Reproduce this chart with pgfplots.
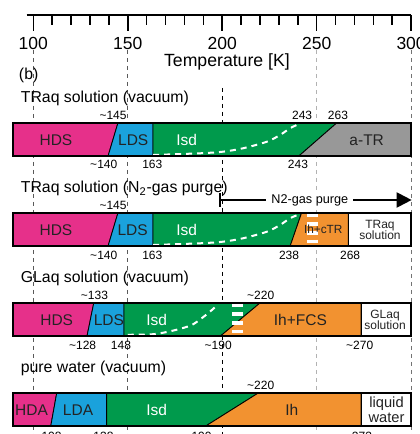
\documentclass[border=0pt]{standalone}
\usepackage{pgfplots}
\pgfplotsset{compat=1.18}
\usepackage{fontspec}
\setmainfont{Liberation Sans}
\usetikzlibrary{arrows.meta}
\definecolor{cmag}{RGB}{230,48,138}
\definecolor{cblue}{RGB}{26,162,220}
\definecolor{cgreen}{RGB}{0,154,76}
\definecolor{cgray}{RGB}{152,152,152}
\definecolor{corange}{RGB}{242,146,48}
\definecolor{ctext}{RGB}{35,35,35}
\newcommand{\fbar}{\fontsize{9.3}{11}\selectfont}
\newcommand{\fnum}{\fontsize{7.2}{8.5}\selectfont}
\newcommand{\ftitle}{\fontsize{9.5}{11}\selectfont}
\newcommand{\fsmall}{\fontsize{7.2}{6.9}\selectfont}
\newcommand{\tl}{\textasciitilde}
\begin{document}
\begin{tikzpicture}
\begin{axis}[
  x=1.1334pt, y=0.6pt,
  xmin=96.5, xmax=300, ymin=-434, ymax=-15,
  axis x line*=top, axis y line=none,
  clip=false,
  xtick={100,150,...,300},
  minor xtick={110,120,...,290},
  tick align=inside,
  major tick length=9.6pt, minor tick length=6pt,
  every tick/.style={black, line width=0.9pt},
  x axis line style={line width=1.2pt, black},
  xticklabel style={anchor=center, yshift=-16.8pt, font=\fontsize{10.5}{12}\selectfont},
  /pgf/number format/assume math mode=true,
  ytick=\empty,
  every node/.append style={inner sep=0pt},
]
% grid lines
\addplot[black!65, line width=0.6pt, dash pattern=on 2.6pt off 2.2pt] coordinates {(100,-50) (100,-434)};
\addplot[black!65, line width=0.6pt, dash pattern=on 2.6pt off 2.2pt] coordinates {(150,-50) (150,-434)};
\addplot[black, line width=0.6pt, dash pattern=on 2.6pt off 2.2pt] coordinates {(200,-88) (200,-434)};
\addplot[black!30, line width=0.6pt, dash pattern=on 2.6pt off 2.2pt] coordinates {(250,-50) (250,-434)};
\addplot[black!55, line width=0.6pt, dash pattern=on 2.6pt off 2.2pt] coordinates {(300,-50) (300,-434)};

% ---------- Bar 1: TRaq solution (vacuum)
\addplot[fill=cmag, draw=black, line width=0.5pt] coordinates {(89.4,-123) (144.8,-123) (139.5,-156.5) (89.4,-156.5)} -- cycle;
\addplot[fill=cblue, draw=black, line width=0.5pt] coordinates {(144.8,-123) (163.4,-123) (163.4,-156.5) (139.5,-156.5)} -- cycle;
\addplot[fill=cgreen, draw=black, line width=0.5pt] coordinates {(163.4,-123) (260.6,-123) (240.3,-156.5) (163.4,-156.5)} -- cycle;
\addplot[fill=cgray, draw=black, line width=0.5pt] coordinates {(260.6,-123) (300,-123) (300,-156.5) (240.3,-156.5)} -- cycle;
\addplot[white, line width=1.2pt, dash pattern=on 3.6pt off 3pt, smooth] coordinates {(163.4,-155) (188.2,-153.3) (200.4,-151.7) (211,-148.3) (223.7,-141.7) (230.6,-135) (235.9,-128.3) (240,-124.5)};
\addplot[draw=black, line width=1.2pt] coordinates {(89.4,-123) (300,-123) (300,-156.5) (89.4,-156.5)} -- cycle;

% ---------- Bar 2: TRaq solution (N2 purge)
\addplot[fill=cmag, draw=black, line width=0.5pt] coordinates {(89.4,-213) (144.8,-213) (139.5,-246.5) (89.4,-246.5)} -- cycle;
\addplot[fill=cblue, draw=black, line width=0.5pt] coordinates {(144.8,-213) (163.4,-213) (163.4,-246.5) (139.5,-246.5)} -- cycle;
\addplot[fill=cgreen, draw=black, line width=0.5pt] coordinates {(163.4,-213) (242,-213) (235.9,-246.5) (163.4,-246.5)} -- cycle;
\addplot[fill=corange, draw=black, line width=0.5pt] coordinates {(242,-213) (266.8,-213) (266.8,-246.5) (235.9,-246.5)} -- cycle;
\addplot[fill=white, draw=black, line width=0.5pt] coordinates {(266.8,-213) (300,-213) (300,-246.5) (266.8,-246.5)} -- cycle;
\addplot[white, line width=1.2pt, dash pattern=on 3.6pt off 3pt, smooth] coordinates {(163.4,-245) (188.2,-243.3) (200.4,-241.7) (211,-238.3) (223.7,-231.7) (230.6,-225) (235.9,-218.3) (240.5,-214.5)};
\addplot[white, line width=6.6pt, dash pattern=on 2.2pt off 3pt] coordinates {(248,-213.6) (248,-246)};
\addplot[draw=black, line width=1.2pt] coordinates {(89.4,-213) (300,-213) (300,-246.5) (89.4,-246.5)} -- cycle;

% ---------- Bar 3: GLaq solution (vacuum)
\addplot[fill=cmag, draw=black, line width=0.5pt] coordinates {(89.4,-303) (132,-303) (128.4,-336.5) (89.4,-336.5)} -- cycle;
\addplot[fill=cblue, draw=black, line width=0.5pt] coordinates {(132,-303) (148,-303) (148,-336.5) (128.4,-336.5)} -- cycle;
\addplot[fill=cgreen, draw=black, line width=0.5pt] coordinates {(148,-303) (220,-303) (198.8,-336.5) (148,-336.5)} -- cycle;
\addplot[fill=corange, draw=black, line width=0.5pt] coordinates {(220,-303) (273.5,-303) (273.5,-336.5) (198.8,-336.5)} -- cycle;
\addplot[fill=white, draw=black, line width=0.5pt] coordinates {(273.5,-303) (300,-303) (300,-336.5) (273.5,-336.5)} -- cycle;
\addplot[white, line width=1.2pt, dash pattern=on 3.6pt off 3pt, smooth] coordinates {(150,-334.8) (162.7,-334.3) (168.8,-332.7) (176.8,-329.3) (183.9,-325) (189.1,-318.3) (193.5,-311.7) (197.9,-304.3)};
\addplot[white, line width=6.6pt, dash pattern=on 2.2pt off 3pt] coordinates {(208.3,-303.6) (208.3,-336)};
\addplot[draw=black, line width=1.2pt] coordinates {(89.4,-303) (300,-303) (300,-336.5) (89.4,-336.5)} -- cycle;

% ---------- Bar 4: pure water (vacuum)
\addplot[fill=cmag, draw=black, line width=0.5pt] coordinates {(89.4,-393) (112.4,-393) (109.2,-426.5) (89.4,-426.5)} -- cycle;
\addplot[fill=cblue, draw=black, line width=0.5pt] coordinates {(112.4,-393) (138.8,-393) (138.8,-426.5) (109.2,-426.5)} -- cycle;
\addplot[fill=cgreen, draw=black, line width=0.5pt] coordinates {(138.8,-393) (219.1,-393) (190.9,-426.5) (138.8,-426.5)} -- cycle;
\addplot[fill=corange, draw=black, line width=0.5pt] coordinates {(219.1,-393) (273.5,-393) (273.5,-426.5) (190.9,-426.5)} -- cycle;
\addplot[fill=white, draw=black, line width=0.5pt] coordinates {(273.5,-393) (300,-393) (300,-426.5) (273.5,-426.5)} -- cycle;
\addplot[draw=black, line width=1.2pt] coordinates {(89.4,-393) (300,-393) (300,-426.5) (89.4,-426.5)} -- cycle;

% ---------- N2 purge arrow
\addplot[black, line width=1.2pt, {Bar[width=8pt]}-{Triangle[length=9pt,width=9pt]}] coordinates {(198.3,-200) (300.3,-200)};
\node[fill=white, inner xsep=3pt, inner ysep=1pt, font=\fontsize{7.6}{9}\selectfont] at (axis cs:246.4,-200) {N2-gas purge};

% ---------- titles
\node[font=\fontsize{10.6}{12}\selectfont] at (axis cs:202.5,-61.5) {Temperature [K]};
\node[anchor=west, font=\ftitle] at (axis cs:89.3,-75) {(b)};
\node[anchor=base west, font=\ftitle] at (axis cs:90.3,-103) {TRaq solution (vacuum)};
\node[anchor=base west, font=\ftitle] at (axis cs:90.3,-193) {TRaq solution (N\textsubscript{2}-gas purge)};
\node[anchor=base west, font=\ftitle] at (axis cs:90.3,-283) {GLaq solution (vacuum)};
\node[anchor=base west, font=\ftitle] at (axis cs:90.3,-373) {pure water (vacuum)};

% ---------- numbers
\node[font=\fnum] at (axis cs:142.2,-115) {\tl145};
\node[font=\fnum] at (axis cs:242.3,-115) {243};
\node[font=\fnum] at (axis cs:261.3,-115) {263};
\node[font=\fnum] at (axis cs:137.3,-164) {\tl140};
\node[font=\fnum] at (axis cs:163,-164) {163};
\node[font=\fnum] at (axis cs:240.1,-164) {243};

\node[font=\fnum] at (axis cs:142.2,-205.7) {\tl145};
\node[font=\fnum] at (axis cs:137.3,-255) {\tl140};
\node[font=\fnum] at (axis cs:163,-255) {163};
\node[font=\fnum] at (axis cs:235.4,-255) {238};
\node[font=\fnum] at (axis cs:267.7,-255) {268};

\node[font=\fnum] at (axis cs:132.4,-295.7) {\tl133};
\node[font=\fnum] at (axis cs:220.4,-295.7) {\tl220};
\node[font=\fnum] at (axis cs:126.1,-345) {\tl128};
\node[font=\fnum] at (axis cs:146.4,-345) {148};
\node[font=\fnum] at (axis cs:197.9,-345) {\tl190};
\node[font=\fnum] at (axis cs:272.8,-345) {\tl270};

\node[font=\fnum] at (axis cs:220.4,-385.5) {\tl220};
\node[font=\fnum] at (axis cs:107.8,-436) {\tl108};
\node[font=\fnum] at (axis cs:135.3,-436) {\tl138};
\node[font=\fnum] at (axis cs:187.2,-436) {\tl190};
\node[font=\fnum] at (axis cs:274,-436) {273};

% ---------- bar labels
\node[font=\fbar, text=ctext] at (axis cs:112,-139.75) {HDS};
\node[font=\fbar, text=ctext] at (axis cs:152.9,-139.75) {LDS};
\node[font=\fbar, text=white] at (axis cs:181.2,-139.75) {Isd};
\node[font=\fbar, text=ctext] at (axis cs:276.5,-139.75) {a-TR};

\node[font=\fbar, text=ctext] at (axis cs:112,-229.75) {HDS};
\node[font=\fbar, text=ctext] at (axis cs:152.6,-229.75) {LDS};
\node[font=\fbar, text=white] at (axis cs:181.2,-229.75) {Isd};
\node[font=\fontsize{7.1}{8}\selectfont, text=ctext] at (axis cs:253.5,-229.75) {Ih+cTR};
\node[font=\fsmall, text=ctext, align=center] at (axis cs:283.5,-229.75) {TRaq\\solution};

\node[font=\fbar, text=ctext] at (axis cs:112.4,-319.75) {HDS};
\node[font=\fbar, text=ctext] at (axis cs:140,-319.75) {LDS};
\node[font=\fbar, text=white] at (axis cs:165.3,-319.75) {Isd};
\node[font=\fbar, text=ctext] at (axis cs:241.4,-319.75) {Ih+FCS};
\node[font=\fsmall, text=ctext, align=center] at (axis cs:286.2,-319.75) {GLaq\\solution};

\node[font=\fbar, text=ctext] at (axis cs:99.1,-409.75) {HDA};
\node[font=\fbar, text=ctext] at (axis cs:123.7,-409.75) {LDA};
\node[font=\fbar, text=white] at (axis cs:165.3,-409.75) {Isd};
\node[font=\fbar, text=ctext] at (axis cs:236.8,-409.75) {Ih};
\node[font=\fontsize{8.8}{8.6}\selectfont, text=ctext, align=center] at (axis cs:287,-409.75) {liquid\\water};

\coordinate (BL) at (axis cs:82.37,-434);
\coordinate (TR) at (axis cs:304.71,0);
\end{axis}
\pgfresetboundingbox
\path[use as bounding box] (BL) rectangle (TR);
\end{tikzpicture}
\end{document}
